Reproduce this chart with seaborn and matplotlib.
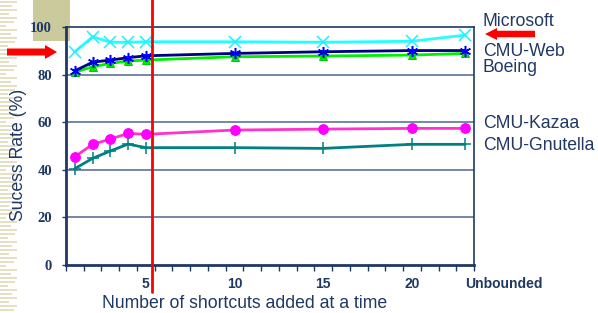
import numpy as np
import matplotlib
matplotlib.use('Agg')
import matplotlib.pyplot as plt
import seaborn as sns
from matplotlib.patches import Rectangle, FancyArrow

# data
shortcuts = [1, 2, 3, 4, 5, 10, 15, 20, 23]   # 23 = Unbounded
microsoft = [89.6, 95.9, 93.6, 93.6, 93.8, 93.8, 93.6, 94.0, 96.6]
cmu_web = [81.6, 85.2, 86.1, 87.1, 87.9, 88.9, 89.6, 90.1, 90.1]
boeing = [81.0, 83.3, 84.7, 85.7, 86.1, 87.5, 87.8, 88.2, 88.9]
cmu_kazaa = [45.5, 50.7, 52.9, 55.3, 54.9, 56.7, 57.1, 57.4, 57.4]
cmu_gnutella = [40.5, 44.8, 47.9, 50.8, 49.3, 49.3, 49.0, 50.7, 50.7]

tick_pos = [5, 10, 15, 20, 23]
tick_labels = ['5', '10', '15', '20', 'Unbounded']
yticks = [0, 20, 40, 60, 80, 100]

series_names = ['Microsoft', 'CMU-Web', 'Boeing', 'CMU-Kazaa', 'CMU-Gnutella']
label_y_px = [21, 51, 68, 124, 145]

navy = '#1f3864'

sns.set_style('white')
plt.rcParams['font.family'] = ['Liberation Sans', 'DejaVu Sans']

fig = plt.figure(figsize=(5.98, 3.13), dpi=100)
fig.patch.set_facecolor('white')

# slide decoration: striped left margin and khaki block
stripe_len = [17, 12, 17, 9, 17, 14, 6, 17, 11, 17, 15, 8]
for i, yy in enumerate(range(1, 313, 4)):
    fig.add_artist(Rectangle((0, (313 - yy - 2) / 313), stripe_len[i % len(stripe_len)] / 598, 1.6 / 313,
                             transform=fig.transFigure, color='#e3e0c4', lw=0, zorder=0))
fig.add_artist(Rectangle((33 / 598, 1 - 41 / 313), 37 / 598, 41 / 313,
                         transform=fig.transFigure, color='#cbca9c', lw=0, zorder=0))

ax = fig.add_axes([66 / 598, 48 / 313, 408 / 598, 238 / 313])
ax.set_facecolor('none')

sns.lineplot(x=shortcuts, y=microsoft, ax=ax, color='#22ffff', marker='x', markersize=8,
             markeredgewidth=1.1, markeredgecolor='#22eeff', linewidth=2)
sns.lineplot(x=shortcuts, y=boeing, ax=ax, color='#00ee00', marker='^', markersize=6,
             markeredgecolor='#00cc00', linewidth=2)
sns.lineplot(x=shortcuts, y=cmu_web, ax=ax, color='#000080', marker=(6, 2, 0), markersize=8,
             markeredgewidth=1.1, markeredgecolor='#0000ff', linewidth=2)
sns.lineplot(x=shortcuts, y=cmu_kazaa, ax=ax, color='#ff33cc', marker='o', markersize=7,
             markerfacecolor='#ff00ff', markeredgecolor='#ff00ff', linewidth=2)
sns.lineplot(x=shortcuts, y=cmu_gnutella, ax=ax, color='#008080', marker='+', markersize=9,
             markeredgewidth=1.1, markeredgecolor='#008080', linewidth=2)

ax.set_xlim(0.5, 23.5)
ax.set_ylim(0, 100)
for yv in yticks[1:-1]:
    ax.axhline(yv, color='#5c7396', lw=1.2, zorder=0.5)

ax.set_xticks(tick_pos)
ax.set_xticklabels(tick_labels, fontweight='bold', fontsize=10, color=navy)
ax.get_xticklabels()[-1].set_horizontalalignment('left')
ax.get_xticklabels()[-1].set_x(22.95)
ax.set_xticks(np.arange(0.5, 24, 1), minor=True)
ax.tick_params(axis='x', which='major', length=0, pad=9)
ax.tick_params(axis='x', which='minor', length=4, width=1, color=navy, direction='out', bottom=True)
ax.set_yticks(yticks)
ax.set_yticklabels([str(v) for v in yticks], family='Liberation Serif', fontweight='bold',
                   fontsize=10.5, color=navy)
ax.tick_params(axis='y', length=3, width=1, color=navy, direction='out', left=True, pad=7)

for side in ['left', 'bottom']:
    ax.spines[side].set_color(navy)
    ax.spines[side].set_linewidth(2)
for side in ['top', 'right']:
    ax.spines[side].set_color(navy)
    ax.spines[side].set_linewidth(1.2)
    ax.spines[side].set_visible(True)

# red marker line at 5 shortcuts
ax.axvline(5.36, ymin=-0.115, ymax=1.12, color='#ff0000', lw=2, clip_on=False, zorder=5)

for name, ypx in zip(series_names, label_y_px):
    fig.text(483 / 598, 1 - ypx / 313, name, fontsize=12.7, color=navy, va='center', ha='left')

fig.text(19 / 598, 1 - 155 / 313, 'Sucess Rate (%)', rotation=90, fontsize=12.7, color=navy,
         va='center', ha='center')
fig.text(245 / 598, 1 - 303 / 313, 'Number of shortcuts added at a time', fontsize=12.7,
         color=navy, va='center', ha='center')

# red arrows
fig.add_artist(FancyArrow(0.07, 2.61, 0.38, 0, width=0.07, head_width=0.14, head_length=0.12,
                          length_includes_head=False, transform=fig.dpi_scale_trans,
                          color='#ff0000', lw=0))
fig.add_artist(FancyArrow(5.35, 2.79, -0.38, 0, width=0.065, head_width=0.12, head_length=0.12,
                          length_includes_head=False, transform=fig.dpi_scale_trans,
                          color='#ff0000', lw=0))

fig.savefig('out.png', dpi=100)
